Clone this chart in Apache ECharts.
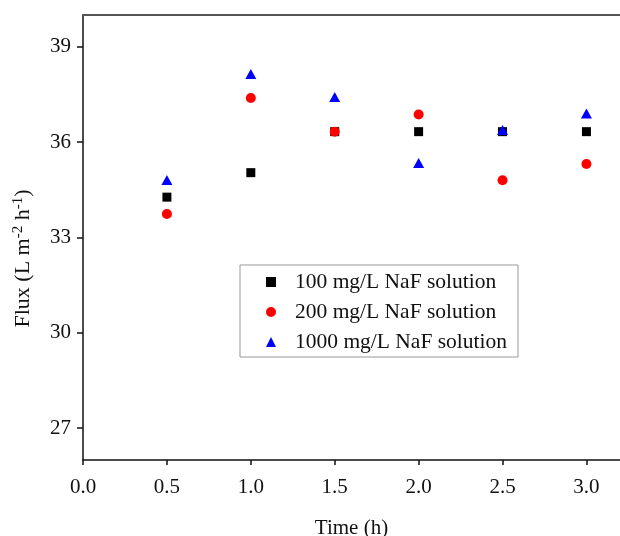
<!DOCTYPE html>
<html>
<head>
<meta charset="utf-8">
<script src="https://cdn.jsdelivr.net/npm/echarts@6/dist/echarts.min.js"></script>
<style>html,body{margin:0;padding:0;background:#fff;}#c{width:620px;height:536px;}</style>
</head>
<body>
<div id="c"></div>
<script>
var times = [0.5, 1.0, 1.5, 2.0, 2.5, 3.0];
var flux100 = [34.27, 35.04, 36.33, 36.33, 36.33, 36.33];
var flux200 = [33.74, 37.39, 36.33, 36.87, 34.80, 35.31];
var flux1000 = [34.81, 38.14, 37.42, 35.34, 36.38, 36.90];
var seriesNames = ['100 mg/L NaF solution', '200 mg/L NaF solution', '1000 mg/L NaF solution'];
var yTicks = [27, 30, 33, 36, 39];
var xTicks = [0.0, 0.5, 1.0, 1.5, 2.0, 2.5, 3.0];

function pairs(xs, ys) { return xs.map(function (x, i) { return [x, ys[i]]; }); }

var font = '"Liberation Serif", "Times New Roman", serif';
var chart = echarts.init(document.getElementById('c'), null, {renderer: 'canvas'});
chart.setOption({
  backgroundColor: '#fff',
  animation: false,
  textStyle: {fontFamily: font},
  grid: {left: 83, top: 15, right: 0, bottom: 76, containLabel: false, outerBoundsMode: 'none'},
  legend: {
    orient: 'vertical',
    left: 240, top: 265,
    padding: [6, 11, 4, 26],
    itemWidth: 10, itemHeight: 10,
    itemGap: 8,
    borderColor: '#999', borderWidth: 1,
    textStyle: {fontFamily: font, fontSize: 21.5, color: '#111', padding: [0, 0, 0, 14]},
    data: seriesNames
  },
  xAxis: [{
    type: 'value', min: 0, max: 3.2, position: 'bottom',
    name: 'Time (h)', nameLocation: 'middle', nameGap: 58,
    nameTextStyle: {fontFamily: font, fontSize: 21, color: '#111'},
    axisLine: {show: true, lineStyle: {color: '#111', width: 1.5}},
    axisTick: {show: true, inside: false, length: 5, customValues: xTicks, lineStyle: {color: '#111', width: 1.5}},
    axisLabel: {customValues: xTicks, margin: 17, fontFamily: font, fontSize: 21, color: '#111',
      formatter: function (v) { return v.toFixed(1); }},
    splitLine: {show: false}
  }, {
    type: 'value', min: 0, max: 3.2, position: 'top',
    axisLine: {show: true, lineStyle: {color: '#555', width: 2}},
    axisTick: {show: false}, axisLabel: {show: false}, splitLine: {show: false}
  }],
  yAxis: {
    type: 'value', min: 26, max: 40,
    name: 'Flux (L m{sup|-2} h{sup|-1})', nameLocation: 'middle', nameRotate: 90, nameGap: 47,
    nameTextStyle: {fontFamily: font, fontSize: 22, color: '#111', padding: [0, 42, 0, 0],
      rich: {sup: {fontFamily: font, fontSize: 15, color: '#111', verticalAlign: 'top', padding: [0, 0, 10, 0]}}},
    axisLine: {show: true, lineStyle: {color: '#111', width: 1.5}},
    axisTick: {show: true, inside: false, length: 6, customValues: yTicks, lineStyle: {color: '#111', width: 1.5}},
    axisLabel: {customValues: yTicks, margin: 12, fontFamily: font, fontSize: 21, color: '#111'},
    splitLine: {show: false}
  },
  series: [{
    name: seriesNames[0], type: 'scatter', symbol: 'rect', symbolSize: 9,
    itemStyle: {color: '#000', opacity: 1}, data: pairs(times, flux100)
  }, {
    name: seriesNames[1], type: 'scatter', symbol: 'circle', symbolSize: 10,
    itemStyle: {color: '#ff0000', opacity: 1}, data: pairs(times, flux200)
  }, {
    name: seriesNames[2], type: 'scatter', symbol: 'triangle', symbolSize: [11, 10],
    itemStyle: {color: '#0000ff', opacity: 1}, data: pairs(times, flux1000)
  }]
});
</script>
</body>
</html>
